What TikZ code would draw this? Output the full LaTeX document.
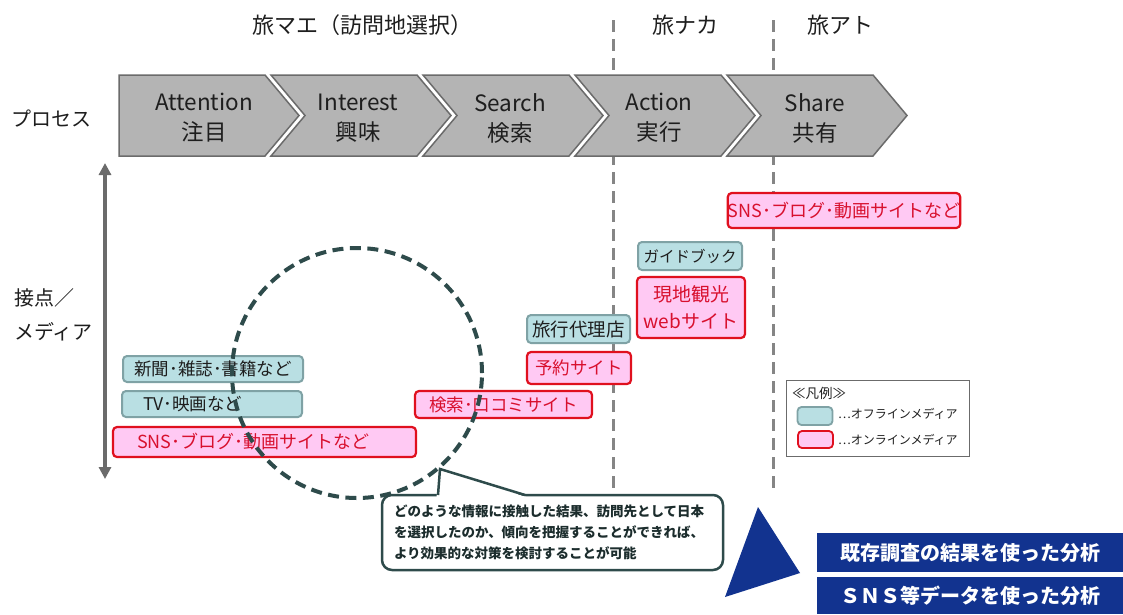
\documentclass[tikz,border=0pt]{standalone}
\usepackage{fontspec}
\setmainfont{Noto Sans CJK JP}
\usetikzlibrary{arrows.meta}
\definecolor{offfill}{HTML}{B9DFE3}
\definecolor{offdraw}{HTML}{7FA2A5}
\definecolor{onfill}{HTML}{FFC9F3}
\definecolor{ondraw}{HTML}{E0101E}
\definecolor{ontext}{HTML}{D8102E}
\definecolor{chevfill}{HTML}{B4B4B4}
\definecolor{chevdraw}{HTML}{6B6B6B}
\definecolor{circcol}{HTML}{2E4B4B}
\definecolor{navy}{HTML}{12338F}
\definecolor{dashgray}{HTML}{858585}
\definecolor{txt}{HTML}{1E1E1E}
\tikzset{
  offbox/.style={draw=offdraw, fill=offfill, line width=2pt, rounded corners=4pt, inner sep=0pt, text=txt},
  onbox/.style={draw=ondraw, fill=onfill, line width=2.2pt, rounded corners=4pt, inner sep=0pt, text=ontext},
  boxfont/.style={font=\fontsize{17.5pt}{20pt}\selectfont},
  snsfont/.style={font=\fontsize{18pt}{20pt}\selectfont},
  chevron/.style={draw=chevdraw, fill=chevfill, line width=1.5pt, line join=miter},
  chevtext/.style={align=center, text=txt, font=\fontsize{22.5pt}{30pt}\selectfont, inner sep=0pt},
  phase/.style={text=txt, font=\fontsize{22pt}{26pt}\selectfont, inner sep=0pt},
  sidelabel/.style={text=txt, font=\fontsize{20pt}{34pt}\selectfont, inner sep=0pt, align=left},
  divider/.style={draw=dashgray, line width=3pt, dash pattern=on 12pt off 7pt},
  vert/.style={draw=chevdraw, line width=3.5pt, {Triangle[width=12pt,length=12pt]}-{Triangle[width=12pt,length=12pt]}},
  legtext/.style={text=txt, font=\fontsize{12pt}{14pt}\selectfont, inner sep=0pt, anchor=west},
  calloutbox/.style={draw=circcol, fill=white, line width=2.5pt, rounded corners=10pt},
  calloutline/.style={draw=circcol, line width=2.5pt, line join=miter},
  navybox/.style={fill=navy, text=white, inner sep=0pt, font=\bfseries\fontsize{20pt}{24pt}\selectfont}
}
\begin{document}
\begin{tikzpicture}[x=1pt,y=-1pt]
\useasboundingbox (0,0) rectangle (1123,614);
\fill[white] (0,0) rectangle (1123,614);

% phase titles
\node[phase] (mae) at (362,25) {旅マエ（訪問地選択）};
\node[phase] (naka) at (685,25) {旅ナカ};
\node[phase] (ato) at (840,25) {旅アト};

% dividers
\coordinate (d1t) at (613,20); \coordinate (d1b) at (613,488);
\coordinate (d2t) at (773,20); \coordinate (d2b) at (773,492);
\draw[divider] (d1t) -- (d1b);
\draw[divider] (d2t) -- (d2b);

% chevrons
\foreach \L/\N in {119/0,271/34,423/34,575/34,727/34}{
  \draw[chevron] (\L,75) -- ({\L+146},75) -- ({\L+180},115.5) -- ({\L+146},156) -- (\L,156) -- ({\L+\N},115.5) -- cycle;
}
\node[chevtext] (attention) at (204,118) {Attention\\注目};
\node[chevtext] (interest) at (358,118) {Interest\\興味};
\node[chevtext] (search) at (510,118) {Search\\検索};
\node[chevtext] (action) at (659,118) {Action\\実行};
\node[chevtext] (share) at (815,118) {Share\\共有};

% side labels
\node[sidelabel] (process) at (51,119) {プロセス};
\node[sidelabel, anchor=west] (media) at (14,315) {接点／\\メディア};
\coordinate (atop) at (105,163);
\coordinate (abot) at (105,479);
\draw[vert] (atop) -- (abot);

% media boxes
\node[offbox, boxfont, minimum width=180, minimum height=26] (news) at (213,369) {新聞･雑誌･書籍など};
\node[offbox, boxfont, minimum width=180, minimum height=26, text width=138, inner xsep=21, align=left] (tv) at (212,404) {TV･映画など};
\node[onbox, snsfont, minimum width=303, minimum height=30, text width=255, inner xsep=24, align=left] (snsl) at (264.5,442) {SNS･ブログ･動画サイトなど};
\node[onbox, boxfont, minimum width=177, minimum height=27] (kensaku) at (503.5,404.5) {検索･口コミサイト};
\node[offbox, minimum width=103, minimum height=28, font=\fontsize{18.5pt}{20pt}\selectfont] (agency) at (578.5,329) {旅行代理店};
\node[onbox, boxfont, minimum width=104, minimum height=32] (yoyaku) at (579,368) {予約サイト};
\node[offbox, minimum width=104, minimum height=28, font=\fontsize{15.5pt}{20pt}\selectfont] (guide) at (690,256) {ガイドブック};
\node[onbox, minimum width=108, minimum height=61, align=center, font=\fontsize{19pt}{27pt}\selectfont] (genchi) at (691,307.5) {現地観光\\webサイト};
\node[onbox, snsfont, minimum width=232, minimum height=35] (snsr) at (844,210.5) {SNS･ブログ･動画サイトなど};

% focus circle
\node[circle, draw=circcol, line width=4pt, dash pattern=on 11pt off 6.5pt, minimum size=250pt, inner sep=0pt] (focus) at (357,373) {};

% legend
\node[draw=chevdraw, line width=1pt, minimum width=183, minimum height=76, inner sep=0pt] (legend) at (877.5,418) {};
\node[legtext, font=\fontsize{13.5pt}{15pt}\selectfont] (legtitle) at (792,393) {≪凡例≫};
\node[offbox, line width=1.8pt, minimum width=35, minimum height=18] (offsw) at (815,416) {};
\node[onbox, line width=1.8pt, minimum width=35, minimum height=17] (onsw) at (815.5,439.5) {};
\node[legtext] (offlab) at (838,414) {…オフラインメディア};
\node[legtext] (onlab) at (838,440) {…オンラインメディア};

% callout
\node[calloutbox, minimum width=341, minimum height=75, text width=317, inner xsep=12, align=left, text=circcol!60!black, font=\bfseries\fontsize{13.5pt}{21pt}\selectfont] (callout) at (552.5,532.5) {どのような情報に接触した結果、訪問先として日本\\を選択したのか、傾向を把握することができれば、\\より効果的な対策を検討することが可能};
\coordinate (ptip) at (440,469);
\fill[white] (436.5,497.2) -- (ptip) -- (527,497.2) -- cycle;
\draw[calloutline] (438,495) -- (ptip) -- (525,495);

% analysis
\fill[navy] (758,507) -- (725,597) -- (800,573) -- cycle;
\node[navybox, minimum width=306, minimum height=39] (exist) at (970,552.5) {既存調査の結果を使った分析};
\node[navybox, minimum width=306, minimum height=37] (snsdata) at (970,595.5) {ＳＮＳ等データを使った分析};
\end{tikzpicture}
\end{document}
